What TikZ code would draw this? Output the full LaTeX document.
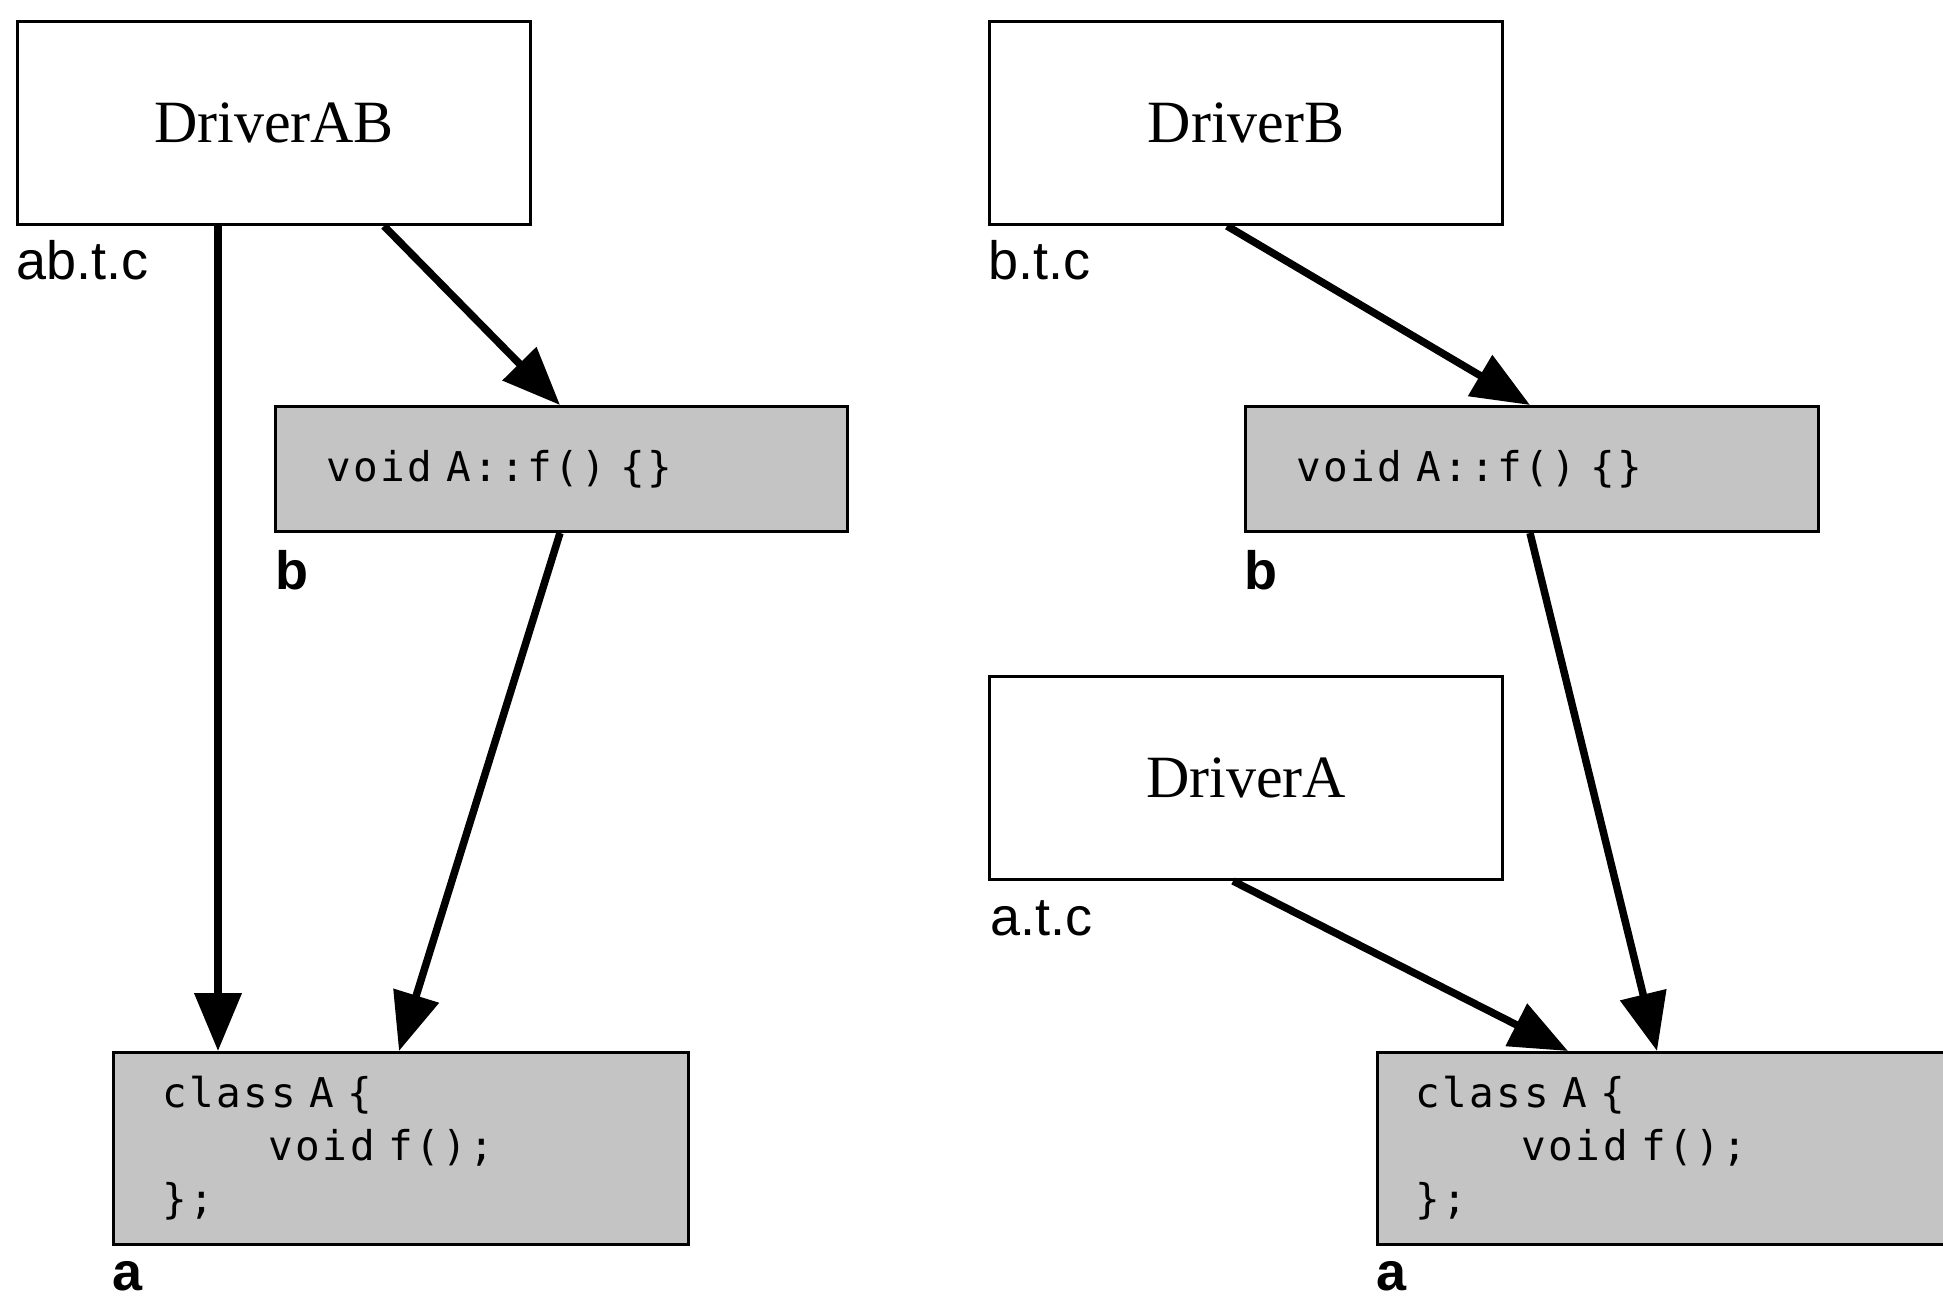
\documentclass[tikz,border=0pt]{standalone}
\usepackage{fontspec}
\newfontfamily\labelfont{Liberation Sans}
\newfontfamily\codefont[LetterSpace=6]{DejaVu Sans Mono}
\newfontfamily\drvfont{Liberation Serif}
\usetikzlibrary{arrows.meta,calc}
\begin{document}
\begin{tikzpicture}[x=1pt,y=-1pt,
  driverbox/.style={draw,line width=3pt,fill=white,minimum width=513pt,minimum height=203pt,anchor=north west,inner sep=0pt,font=\drvfont\fontsize{60}{64}\selectfont},
  codebox/.style={draw,line width=3pt,fill=black!23,anchor=north west,inner ysep=0pt,align=left,font=\codefont\fontsize{41}{53}\selectfont},
  filelabel/.style={anchor=base west,inner sep=0pt,font=\labelfont\fontsize{54}{58}\selectfont},
  pkglabel/.style={anchor=base west,inner sep=0pt,font=\labelfont\bfseries\fontsize{54}{58}\selectfont},
  dep/.style={line width=7.5pt,-{Triangle[length=58pt,width=46pt]}}
]
\useasboundingbox (0,0) rectangle (1943,1300);
\clip (0,0) rectangle (1943,1300);
\fill[white] (0,0) rectangle (1943,1300);

% left half
\node[driverbox] (dab) at (16,20) {DriverAB};
\node[filelabel] (labab) at (16,279) {ab.t.c};
\node[codebox,minimum width=572pt,minimum height=125pt,text width=470pt,inner xsep=51pt] (bL) at (274,405) {void A::f() \{\}};
\node[pkglabel] (labbL) at (275,589) {b};
\node[codebox,minimum width=575pt,minimum height=192pt,text width=477pt,inner xsep=49pt] (aL) at (112,1051) {class A \{\\\phantom{xxxx}void f();\\\};};
\node[pkglabel] (labaL) at (112,1290) {a};

\draw[dep] ([xshift=202pt]dab.south west) -- ([xshift=106pt]aL.north west);
\draw[dep] ([xshift=368pt]dab.south west) -- ([xshift=286pt]bL.north west);
\draw[dep] ([xshift=286pt]bL.south west) -- ([xshift=287pt]aL.north west);

% right half
\node[driverbox] (dB) at (988,20) {DriverB};
\node[filelabel] (labb) at (988,279) {b.t.c};
\node[codebox,minimum width=573pt,minimum height=125pt,text width=471pt,inner xsep=51pt] (bR) at (1244,405) {void A::f() \{\}};
\node[pkglabel] (labbR) at (1244,589) {b};
\node[driverbox] (dA) at (988,675) {DriverA};
\node[filelabel] (laba) at (990,935) {a.t.c};
\node[codebox,minimum width=640pt,minimum height=192pt,text width=564pt,inner xsep=38pt] (aR) at (1376,1051) {class A \{\\\phantom{xxxx}void f();\\\};};
\node[pkglabel] (labaR) at (1376,1290) {a};

\draw[dep] ([xshift=239pt]dB.south west) -- ([xshift=286pt]bR.north west);
\draw[dep] ([xshift=286pt]bR.south west) -- ([xshift=281pt]aR.north west);
\draw[dep] ([xshift=245pt]dA.south west) -- ([xshift=192pt]aR.north west);
\end{tikzpicture}
\end{document}
